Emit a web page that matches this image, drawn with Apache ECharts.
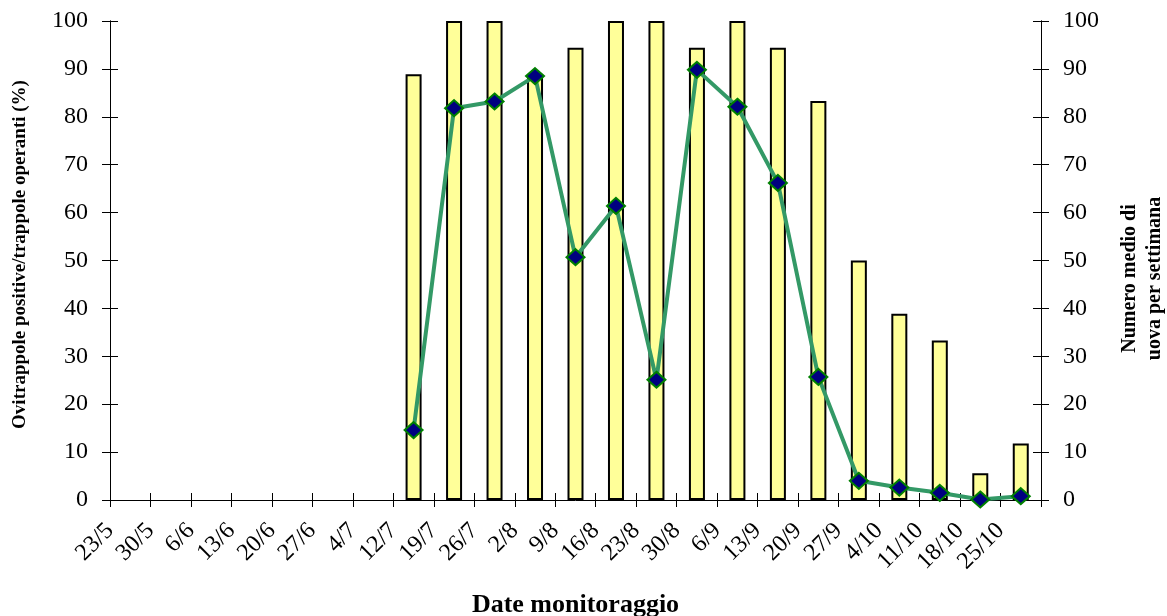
<!DOCTYPE html>
<html>
<head>
<meta charset="utf-8">
<script src="https://cdn.jsdelivr.net/npm/echarts@6/dist/echarts.min.js"></script>
<style>
html, body { margin: 0; padding: 0; background: #fff; }
#main { width: 1167px; height: 616px; }
</style>
</head>
<body>
<div id="main"></div>
<script>
var dates = ['23/5', '30/5', '6/6', '13/6', '20/6', '27/6', '4/7', '12/7', '19/7', '26/7', '2/8', '9/8',
    '16/8', '23/8', '30/8', '6/9', '13/9', '20/9', '27/9', '4/10', '11/10', '18/10', '25/10'];
// percentuale ovitrappole positive
var positive = [null, null, null, null, null, null, null, 88.9, 100, 100, 88.9, 94.4,
    100, 100, 94.4, 100, 94.4, 83.3, 50, 38.9, 33.3, 5.6, 11.8];
// numero medio di uova per settimana
var uova = [null, null, null, null, null, null, null, 14.6, 81.8, 83.2, 88.5, 50.7,
    61.4, 25.1, 89.8, 82.1, 66.2, 25.7, 4.0, 2.6, 1.5, 0.1, 0.8];
var tickLabels = dates.concat(['']);

var font = '"Liberation Serif", "Times New Roman", serif';
var chart = echarts.init(document.getElementById('main'));

function yAx(pos, withLabels, inside) {
    return {
        type: 'value', position: pos, min: 0, max: 100, interval: 10,
        axisLine: { show: true, lineStyle: { color: '#000', width: 1 } },
        axisTick: { show: true, inside: inside, length: 8, lineStyle: { color: '#000' } },
        axisLabel: { show: withLabels, fontFamily: font, fontSize: 24, color: '#000', margin: 22 },
        splitLine: { show: false }
    };
}

var yLeft = yAx('left', true, false);
yLeft.name = 'Ovitrappole positive/trappole operanti (%)';
yLeft.nameLocation = 'middle';
yLeft.nameRotate = 90;
yLeft.nameGap = 80;
yLeft.nameTextStyle = { fontFamily: font, fontSize: 19, fontWeight: 'bold', color: '#000',
    padding: [0, 0, 0, 12] };

var yRight = yAx('right', true, false);
yRight.name = 'Numero medio di\nuova per settimana';
yRight.nameLocation = 'middle';
yRight.nameRotate = 90;
yRight.nameGap = 76;
yRight.nameTextStyle = { fontFamily: font, fontSize: 20, fontWeight: 'bold', color: '#000',
    lineHeight: 25, padding: [0, 36, 0, 0] };

option = {
    backgroundColor: '#fff',
    animation: false,
    grid: { left: 110, right: 126, top: 21, bottom: 116, outerBoundsMode: 'none' },
    xAxis: [
        {
            type: 'category', data: dates, boundaryGap: true,
            axisLine: { show: true, lineStyle: { color: '#000', width: 1 } },
            axisTick: { show: true, inside: true, length: 7, lineStyle: { color: '#000' } },
            axisLabel: { show: false }
        },
        {
            type: 'category', data: tickLabels, boundaryGap: false, position: 'bottom',
            name: 'Date monitoraggio', nameLocation: 'middle', nameGap: 92,
            nameTextStyle: { fontFamily: font, fontSize: 26, fontWeight: 'bold', color: '#000' },
            axisLine: { show: false },
            axisTick: { show: true, length: 7, interval: 0, lineStyle: { color: '#000' } },
            axisLabel: { interval: 0, rotate: 45, fontFamily: font, fontSize: 24, color: '#000', margin: 27 }
        }
    ],
    yAxis: [yLeft, yRight, yAx('left', false, true), yAx('right', false, true)],
    series: [
        {
            name: 'Ovitrappole positive', type: 'bar', xAxisIndex: 0, yAxisIndex: 0,
            data: positive, barWidth: 16,
            itemStyle: { color: '#FFFF99', borderColor: '#000', borderWidth: 2 }
        },
        {
            name: 'Numero medio di uova', type: 'line', xAxisIndex: 0, yAxisIndex: 1,
            data: uova, connectNulls: false,
            lineStyle: { color: '#339966', width: 4 },
            symbol: 'diamond', symbolSize: [18, 16],
            itemStyle: { color: '#000080', borderColor: '#008000', borderWidth: 2 },
            z: 5
        }
    ]
};
chart.setOption(option);
</script>
</body>
</html>
